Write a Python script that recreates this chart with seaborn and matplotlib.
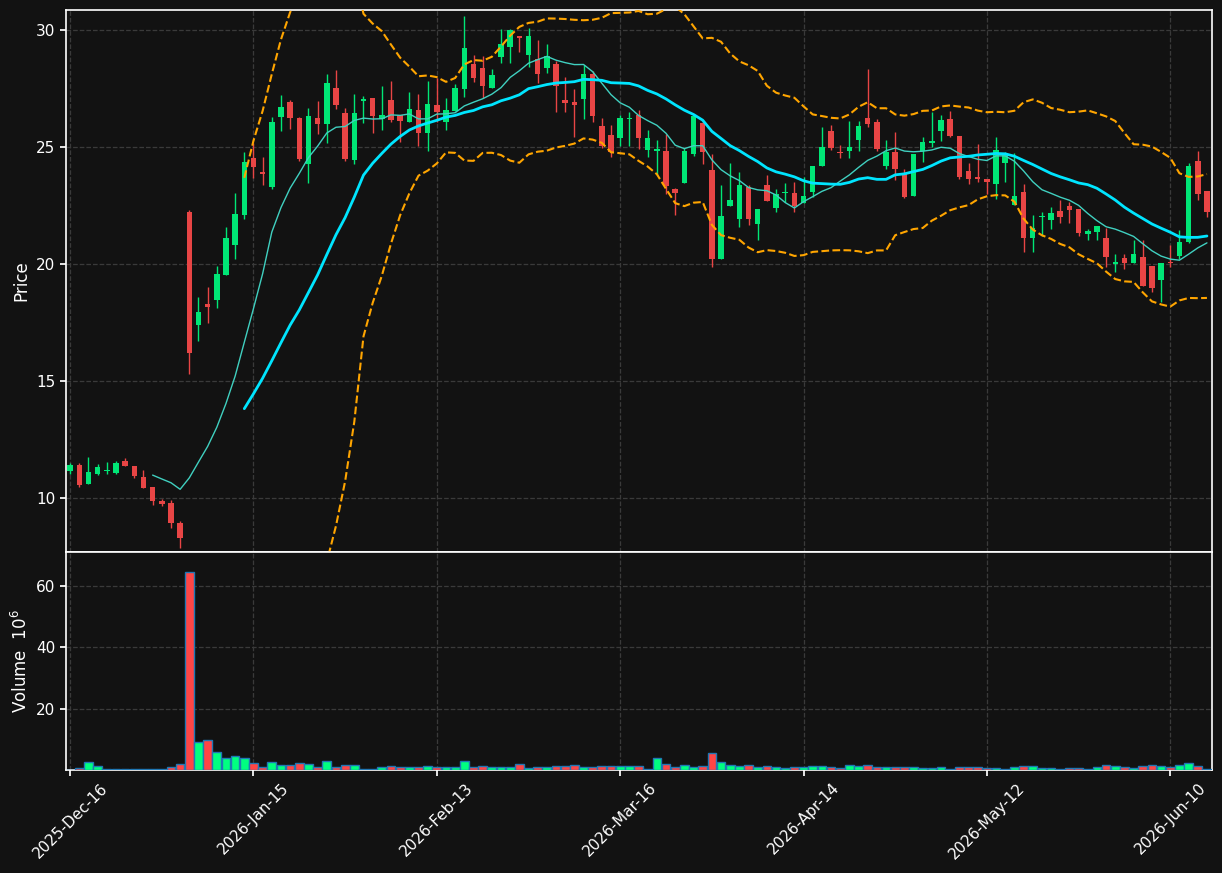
import numpy as np
import pandas as pd
import seaborn as sns
import matplotlib
matplotlib.use('Agg')
import matplotlib.pyplot as plt

# Daily OHLC (price) and volume (millions).
opens = [11.17, 11.41, 10.61, 11.04, 11.15, 11.08, 11.58, 11.37, 10.90, 10.47,
         9.89, 9.79, 8.93, 22.22, 17.41, 18.30, 18.48, 19.54, 20.82, 22.11,
         24.52, 23.93, 23.30, 26.30, 26.92, 26.24, 24.29, 26.24, 26.00, 27.51,
         26.45, 24.46, 26.98, 27.09, 26.21, 27.01, 26.35, 26.08, 26.58, 25.61,
         26.79, 26.08, 26.54, 27.48, 28.55, 28.38, 27.52, 28.86, 29.29, 29.74,
         28.94, 28.75, 28.38, 28.55, 27.01, 26.92, 27.05, 28.12, 25.90, 25.51,
         25.40, 26.18, 26.35, 24.88, 24.84, 24.83, 23.21, 23.46, 24.70, 26.03,
         24.02, 20.23, 22.49, 21.94, 23.30, 21.72, 23.38, 22.41, 23.03, 23.03,
         22.62, 23.09, 24.20, 25.68, 24.80, 24.84, 25.31, 26.24, 26.07, 24.20,
         24.79, 23.90, 22.92, 24.82, 25.18, 25.70, 26.20, 25.47, 23.97, 23.72,
         23.61, 23.42, 24.33, 22.52, 23.09, 21.12, 22.01, 21.88, 22.26, 22.48,
         22.35, 21.30, 21.38, 21.12, 20.01, 20.25, 20.03, 20.30, 19.91, 19.33,
         20.09, 20.35, 20.95, 24.40, 23.12]
highs = [11.51, 11.51, 11.74, 11.43, 11.53, 11.57, 11.69, 11.37, 11.18, 10.47,
         9.96, 9.90, 9.02, 22.31, 18.58, 19.02, 19.90, 21.57, 23.02, 24.80,
         25.16, 24.59, 26.30, 27.21, 27.01, 26.30, 26.65, 26.95, 28.12, 28.28,
         26.65, 27.25, 27.19, 27.09, 27.61, 27.82, 26.35, 27.34, 27.25, 27.82,
         27.93, 27.08, 27.69, 30.60, 28.93, 28.90, 28.32, 30.04, 30.04, 29.74,
         30.07, 29.57, 29.40, 28.68, 27.98, 27.47, 28.49, 28.26, 26.24, 25.94,
         26.35, 26.48, 26.58, 25.71, 25.29, 25.56, 23.24, 24.94, 26.41, 26.15,
         24.69, 23.38, 24.30, 23.92, 23.38, 22.35, 23.80, 23.19, 23.46, 23.50,
         23.73, 24.19, 25.84, 25.94, 25.09, 26.11, 26.11, 28.32, 26.18, 25.30,
         25.63, 24.05, 24.70, 25.44, 26.51, 26.37, 26.54, 25.47, 24.33, 25.12,
         23.61, 25.41, 24.80, 24.76, 23.42, 22.08, 22.22, 22.42, 22.72, 22.65,
         22.35, 21.48, 21.62, 21.55, 20.43, 20.44, 21.01, 21.01, 19.91, 20.03,
         20.81, 21.45, 24.30, 24.83, 23.12]
lows = [11.01, 10.46, 10.58, 10.98, 11.01, 11.04, 11.35, 10.84, 10.44, 9.69,
        9.67, 8.71, 7.85, 15.29, 16.70, 17.47, 18.11, 19.54, 20.20, 21.91,
        23.66, 23.38, 23.19, 25.67, 25.76, 24.42, 23.45, 25.54, 25.16, 26.61,
        24.42, 24.26, 26.01, 25.59, 25.71, 26.07, 25.21, 26.08, 25.06, 24.82,
        26.08, 25.73, 26.54, 27.12, 27.79, 27.08, 27.52, 28.58, 28.60, 29.07,
        28.43, 27.72, 28.18, 26.48, 26.51, 25.44, 26.21, 26.08, 24.97, 24.56,
        25.06, 25.06, 24.90, 24.57, 23.80, 22.98, 22.09, 23.46, 24.63, 24.26,
        19.86, 20.23, 22.49, 21.59, 21.65, 21.03, 22.69, 22.24, 22.64, 22.21,
        22.62, 22.88, 24.20, 24.87, 24.52, 24.52, 24.84, 25.84, 24.83, 24.05,
        23.58, 22.83, 22.92, 24.35, 25.01, 25.27, 25.44, 23.62, 23.43, 23.49,
        22.98, 22.79, 23.52, 22.52, 20.53, 20.53, 21.21, 21.48, 21.74, 21.74,
        21.20, 21.01, 21.01, 19.88, 19.64, 19.77, 20.03, 19.07, 18.79, 18.36,
        19.88, 20.20, 20.91, 22.72, 22.00]
closes = [11.41, 10.56, 11.11, 11.32, 11.20, 11.50, 11.38, 10.95, 10.44, 9.89,
          9.76, 8.95, 8.30, 16.21, 17.95, 18.18, 19.57, 21.11, 22.14, 24.36,
          24.16, 23.86, 26.07, 26.70, 26.25, 24.50, 26.32, 26.00, 27.74, 26.81,
          24.49, 26.45, 27.05, 26.32, 26.37, 26.15, 26.11, 26.62, 25.61, 26.84,
          26.51, 26.58, 27.51, 29.23, 27.95, 27.62, 28.08, 29.40, 30.00, 29.67,
          29.74, 28.12, 28.89, 27.61, 26.89, 26.79, 28.12, 26.32, 25.06, 24.80,
          26.24, 26.24, 25.40, 25.38, 24.91, 23.35, 23.05, 24.83, 26.32, 24.80,
          20.20, 22.05, 22.74, 23.38, 21.94, 22.35, 22.69, 22.98, 23.09, 22.49,
          22.91, 24.19, 25.00, 24.96, 24.73, 25.00, 25.90, 26.00, 24.91, 24.80,
          24.05, 22.88, 24.70, 25.21, 25.26, 26.15, 25.48, 23.72, 23.65, 23.63,
          23.52, 24.87, 24.69, 22.91, 21.12, 21.55, 22.05, 22.17, 22.02, 22.31,
          21.34, 21.41, 21.62, 20.31, 20.09, 20.06, 20.43, 19.07, 18.99, 20.03,
          20.06, 20.93, 24.19, 23.00, 22.24]
volumes = [0.1, 0.5, 2.5, 1.2, 0.4, 0.4, 0.2, 0.4, 0.4, 0.4,
           0.4, 0.9, 1.9, 64.5, 9.1, 9.7, 5.8, 3.8, 4.5, 3.8,
           2.2, 1.1, 2.5, 1.5, 1.5, 2.2, 1.9, 0.9, 2.8, 0.9,
           1.5, 1.5, 0.4, 0.4, 0.9, 1.2, 0.9, 0.9, 0.9, 1.2,
           0.9, 0.9, 0.9, 2.8, 0.9, 1.2, 0.9, 0.9, 0.9, 1.9,
           0.5, 0.9, 0.9, 1.2, 1.2, 1.5, 0.9, 0.9, 1.2, 1.2,
           1.2, 1.2, 1.2, 0.4, 3.8, 1.9, 0.9, 1.5, 0.9, 1.2,
           5.5, 2.5, 1.5, 1.2, 1.5, 0.9, 1.2, 0.9, 0.5, 0.9,
           0.9, 1.2, 1.2, 0.9, 0.5, 1.5, 1.2, 1.5, 0.9, 0.9,
           0.9, 0.9, 0.9, 0.5, 0.5, 0.9, 0.2, 0.9, 0.9, 0.9,
           0.5, 0.5, 0.2, 0.9, 1.2, 1.2, 0.5, 0.5, 0.2, 0.5,
           0.5, 0.2, 0.9, 1.5, 1.2, 0.9, 0.5, 1.2, 1.5, 1.2,
           0.9, 1.5, 2.2, 1.2, 0.2]

# Trading days (NYSE calendar) starting 2025-12-16
holidays = ['2025-12-25', '2026-01-01', '2026-01-19', '2026-02-16',
            '2026-04-03', '2026-05-25']
bday = pd.offsets.CustomBusinessDay(holidays=holidays)
dates = pd.date_range('2025-12-16', periods=len(closes), freq=bday)

df = pd.DataFrame({'Open': opens, 'High': highs, 'Low': lows,
                   'Close': closes, 'Volume': volumes}, index=dates)
df['x'] = np.arange(len(df))
df['ma10'] = df['Close'].rolling(10).mean()
df['ma20'] = df['Close'].rolling(20).mean()
std20 = df['Close'].rolling(20).std()
df['bb_up'] = df['ma20'] + 2 * std20
df['bb_dn'] = df['ma20'] - 2 * std20

BG = '#121212'
UP, DOWN = '#00e676', '#e84545'
VUP, VDOWN = '#00ff80', '#ff4545'

sns.set_theme(style='darkgrid', rc={
    'figure.facecolor': BG, 'axes.facecolor': BG, 'savefig.facecolor': BG,
    'axes.edgecolor': 'white', 'axes.labelcolor': 'white',
    'xtick.color': 'white', 'ytick.color': 'white', 'text.color': 'white',
    'grid.color': '#3a3a3a', 'grid.linestyle': '--', 'grid.linewidth': 0.9,
    'xtick.bottom': True, 'ytick.left': True,
    'xtick.major.size': 4, 'ytick.major.size': 4,
})
plt.rcParams['font.family'] = ['DejaVu Sans']
plt.rcParams['font.size'] = 11

fig = plt.figure(figsize=(12.22, 8.73), dpi=100)
ax = fig.add_axes([0.054, 0.3677, 0.9378, 0.6208])
axv = fig.add_axes([0.054, 0.118, 0.9378, 0.2494], sharex=ax)

up = df['Close'] >= df['Open']
colors = np.where(up, UP, DOWN)
vcolors = np.where(up, VUP, VDOWN)

# Candles
ax.vlines(df['x'], df['Low'], df['High'], colors=colors, linewidth=1, zorder=2)
body = (df['Close'] - df['Open']).abs().clip(lower=0.04)
ax.bar(df['x'], body, bottom=df[['Open', 'Close']].min(axis=1), width=0.6,
       color=colors, linewidth=0, zorder=3)

# Moving averages and Bollinger bands
sns.lineplot(x='x', y='ma10', data=df, ax=ax, color='#40d0c0', linewidth=1, zorder=4)
sns.lineplot(x='x', y='ma20', data=df, ax=ax, color='#00e5ff', linewidth=2, zorder=4)
sns.lineplot(x='x', y='bb_up', data=df, ax=ax, color='orange', linewidth=1.5,
             linestyle='--', zorder=4)
sns.lineplot(x='x', y='bb_dn', data=df, ax=ax, color='orange', linewidth=1.5,
             linestyle='--', zorder=4)

# Volume
axv.bar(df['x'], df['Volume'], width=0.95, color=vcolors,
        edgecolor='#1f77b4', linewidth=1, zorder=3)

ax.set_xlim(-0.45, 124.55)
ax.set_ylim(7.69, 30.85)
axv.set_ylim(0, 71.1)
ax.set_yticks([10, 15, 20, 25, 30])
axv.set_yticks([20, 40, 60])

ticks = np.arange(0, len(df), 20)
axv.set_xticks(ticks)
axv.set_xticklabels([d.strftime('%Y-%b-%d') for d in df.index[ticks]],
                    rotation=45, ha='center')
plt.setp(ax.get_xticklabels(), visible=False)
ax.tick_params(axis='x', length=0)

ax.set_xlabel('')
ax.set_ylabel('Price')
axv.set_xlabel('')
axv.set_ylabel('Volume  $10^{6}$')

for a in (ax, axv):
    for s in a.spines.values():
        s.set_visible(True)
        s.set_color('white')
        s.set_linewidth(1.2)

fig.savefig('out.png', dpi=100, facecolor=BG)
